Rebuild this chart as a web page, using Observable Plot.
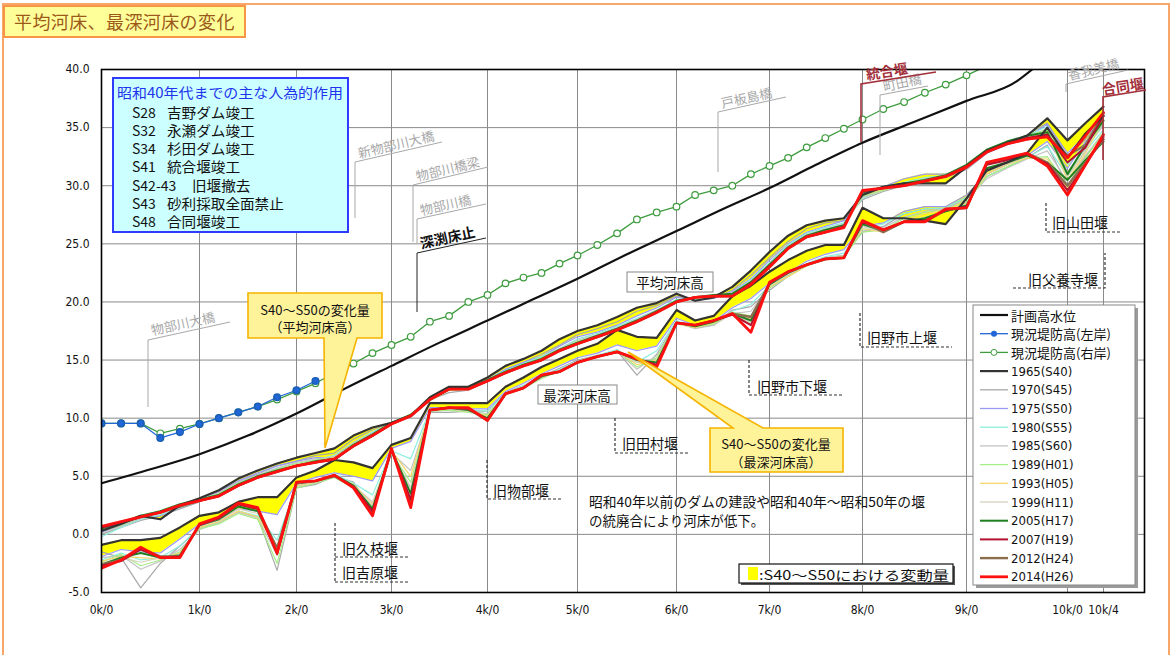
<!DOCTYPE html>
<html><head><meta charset="utf-8">
<script src="https://cdn.jsdelivr.net/npm/d3@7"></script>
<script src="https://cdn.jsdelivr.net/npm/@observablehq/plot@0.6"></script>
<style>
body{margin:0;background:#fff;}
#wrap{position:relative;width:1176px;height:655px;overflow:hidden;font-family:"Noto Sans CJK JP",sans-serif;}
#border{position:absolute;left:2px;top:3px;width:1168px;height:720px;border:2px solid #F9A66B;box-sizing:border-box;}
#chart{position:absolute;left:0;top:0;}
#title{position:absolute;left:3px;top:5px;width:243px;height:33px;background:#FFFF99;border:2px solid #F79646;box-sizing:border-box;color:#9C5A1A;font-size:18px;line-height:29px;padding-left:9px;letter-spacing:0.4px;}
</style></head>
<body><div id="wrap"><div id="border"></div><div id="chart"></div><div id="title">平均河床、最深河床の変化</div></div>
<script>
// ---- data ----
const stations = [0,0.2,0.4,0.6,0.8,1.0,1.2,1.4,1.6,1.8,
  2.0,2.2,2.4,2.6,2.8,3.0,3.2,3.4,3.6,3.8,
  4.0,4.2,4.4,4.6,4.8,5.0,5.2,5.4,5.6,5.8,
  6.0,6.2,6.4,6.6,6.8,7.0,7.2,7.4,7.6,7.8,
  8.0,8.2,8.4,8.6,8.8,9.0,9.2,9.4,9.6,9.8,
  10.0,10.2,10.4];

// 平均河床高 (mean bed)
const mean1965 = [0.3,0.9,1.6,1.3,2.5,3.1,3.8,4.8,5.5,6.1, 6.6,7.0,7.4,8.5,9.2,9.6,10.2,11.8,12.7,12.7, 13.5,14.5,15.1,15.8,16.8,17.5,18.0,18.7,19.5,19.9, 20.7,20.1,20.4,21.3,22.7,24.3,25.7,26.6,27.0,27.2, 29.2,29.9,30.2,30.2,30.2,31.6,33.0,33.7,34.3,35.8, 33.9,35.4,36.8];
const mean1970 = [0.0,0.6,1.2,1.6,2.2,2.8,3.6,4.5,5.2,5.9, 6.3,6.8,7.0,8.2,9.0,9.6,10.1,11.6,12.2,12.4, 13.2,14.2,14.8,15.5,16.3,17.2,17.7,18.3,19.2,19.7, 20.5,20.2,20.3,21.0,22.3,23.8,25.2,26.3,26.8,27.0, 28.8,29.5,30.0,30.6,30.7,31.4,32.8,33.6,34.4,35.4, 32.5,34.0,35.8];
const mean1975 = [0.2,0.8,1.4,1.6,2.3,3.0,3.7,4.6,5.3,5.9, 6.3,6.6,6.6,7.8,8.8,9.5,10.1,11.6,12.5,12.6, 13.3,14.2,14.8,15.3,16.2,17.0,17.4,18.0,18.8,19.5, 20.4,20.2,20.3,20.9,22.0,23.6,25.0,26.0,26.5,27.0, 29.0,29.9,30.6,31.0,31.0,31.5,32.8,33.5,34.2,35.3, 32.8,34.3,35.6];
const mean1980 = [-0.2,0.6,1.3,1.7,2.3,2.9,3.5,4.4,5.1,5.7, 6.1,6.4,6.8,7.9,8.8,9.5,10.2,11.6,12.5,12.5, 13.3,14.1,14.7,15.3,16.0,16.8,17.3,17.9,18.6,19.3, 20.2,20.2,20.4,20.8,21.9,23.4,24.9,25.9,26.4,26.8, 28.9,29.7,30.3,30.7,30.9,31.6,33.0,33.7,34.3,35.1, 31.8,33.6,35.4];
const mean1985 = [0.1,0.7,1.4,1.8,2.4,3.0,3.6,4.5,5.1,5.7, 6.2,6.5,6.7,7.9,8.7,9.5,10.1,11.5,12.4,12.4, 13.2,14.0,14.6,15.2,16.0,16.7,17.2,17.8,18.5,19.3, 20.1,20.3,20.4,20.8,21.8,23.3,24.8,25.8,26.3,26.7, 29.0,29.6,30.1,30.6,30.9,31.7,33.1,33.8,34.2,34.9, 31.2,33.2,35.2];
const mean1989 = [0.3,0.8,1.5,1.9,2.5,3.0,3.5,4.4,5.0,5.6, 6.1,6.4,6.6,7.8,8.6,9.6,10.2,11.5,12.4,12.5, 13.2,13.9,14.6,15.2,15.9,16.6,17.1,17.7,18.4,19.2, 20.1,20.3,20.5,20.7,21.7,23.2,24.7,25.7,26.2,26.6, 29.1,29.6,30.2,30.5,30.8,31.8,33.1,33.8,34.3,34.8, 30.8,33.0,35.5];
const mean1993 = [0.4,0.9,1.5,1.9,2.5,3.0,3.4,4.3,5.0,5.5, 6.0,6.3,6.6,7.7,8.6,9.5,10.2,11.6,12.4,12.5, 13.2,13.9,14.5,15.1,15.8,16.5,17.1,17.6,18.3,19.1, 20.0,20.3,20.5,20.6,21.6,23.1,24.6,25.6,26.1,26.5, 29.2,29.7,30.1,30.5,30.8,31.7,33.0,33.7,34.2,34.6, 30.5,32.8,35.8];
const mean1999 = [0.5,1.0,1.5,2.0,2.5,2.9,3.4,4.3,4.9,5.5, 5.9,6.3,6.5,7.7,8.5,9.5,10.2,11.6,12.5,12.5, 13.2,13.9,14.5,15.1,15.8,16.5,17.0,17.6,18.3,19.1, 20.0,20.4,20.5,20.6,21.6,23.1,24.6,25.6,26.1,26.5, 29.3,29.8,30.1,30.4,30.8,31.7,33.0,33.7,34.2,34.5, 30.8,33.0,36.0];
const mean2005 = [0.5,1.0,1.6,2.0,2.6,3.0,3.4,4.3,5.0,5.5, 5.9,6.3,6.5,7.7,8.6,9.6,10.3,11.6,12.5,12.6, 13.3,14.0,14.6,15.1,15.9,16.5,17.1,17.7,18.4,19.2, 20.1,20.4,20.6,20.7,21.7,23.2,24.7,25.7,26.2,26.6, 29.4,29.9,30.2,30.5,30.9,31.8,33.1,33.8,34.3,34.6, 31.0,33.5,35.6];
const mean2007 = [0.6,1.0,1.5,1.9,2.5,2.9,3.3,4.2,4.9,5.4, 5.9,6.2,6.4,7.6,8.5,9.5,10.2,11.6,12.5,12.5, 13.2,13.9,14.5,15.0,15.8,16.4,17.0,17.6,18.3,19.1, 20.0,20.4,20.5,20.5,21.6,23.1,24.6,25.6,26.0,26.5, 29.5,29.8,30.1,30.4,30.8,31.7,33.0,33.6,34.1,34.4, 32.0,33.3,36.0];
const mean2012 = [0.6,1.0,1.5,1.9,2.4,2.9,3.3,4.2,4.9,5.4, 5.9,6.2,6.5,7.6,8.5,9.5,10.2,11.6,12.5,12.5, 13.2,13.9,14.5,15.0,15.8,16.4,17.0,17.6,18.3,19.1, 20.0,20.4,20.5,20.5,21.5,23.0,24.6,25.6,26.0,26.5, 29.5,29.8,30.0,30.4,30.8,31.6,32.9,33.6,34.0,34.3, 32.6,33.5,36.2];
const mean2014 = [0.7,1.1,1.5,1.9,2.5,2.9,3.3,4.2,4.9,5.4, 5.9,6.2,6.5,7.6,8.5,9.5,10.2,11.6,12.5,12.5, 13.2,13.9,14.5,15.0,15.8,16.4,17.0,17.6,18.3,19.1, 20.0,20.4,20.5,20.5,21.5,23.0,24.6,25.6,26.0,26.4, 29.6,29.8,30.0,30.4,30.8,31.6,32.9,33.6,34.0,34.2, 32.4,34.3,36.3];

// 最深河床高 (deepest bed)
const deep1965 = [-0.9,-0.5,-0.5,-0.3,0.6,1.6,1.9,2.8,3.2,3.2, 4.9,5.5,6.4,6.2,5.7,7.7,8.3,11.3,11.3,11.3, 11.3,12.7,13.5,14.4,15.1,15.8,16.4,17.6,17.0,16.9, 19.3,18.4,18.8,20.5,21.4,22.6,23.6,24.4,24.9,24.9, 28.1,27.2,27.2,27.0,26.7,28.9,31.3,32.0,32.8,35.0, 32.4,34.5,36.0];
const deep1970 = [-1.5,-2.0,-4.6,-2.5,-1.0,0.5,1.0,2.0,1.5,-3.1, 4.0,4.3,5.0,4.5,2.0,7.0,4.0,10.5,10.5,10.6, 10.6,12.2,12.8,13.6,14.3,15.0,15.4,15.8,13.7,15.5, 18.3,17.8,18.0,19.3,19.6,21.0,22.2,23.2,23.8,24.0, 26.0,26.5,27.6,28.0,28.0,29.0,30.8,31.6,32.4,33.5, 30.0,32.5,34.5];
const deep1975 = [-1.9,-1.3,-1.5,-1.6,-0.4,0.9,1.2,2.2,2.0,1.7, 4.4,4.9,5.3,5.0,4.6,7.4,8.0,10.9,10.9,10.8, 10.8,12.3,13.0,13.8,14.5,15.2,15.6,16.3,15.8,16.2, 18.6,18.0,18.3,19.5,20.3,21.6,22.5,23.5,24.1,24.5, 26.5,26.8,27.8,28.2,28.2,29.2,31.0,31.8,32.6,33.8, 31.5,33.8,35.2];
const deep1980 = [-2.2,-1.6,-2.2,-2.0,-1.0,0.6,1.0,2.0,1.6,-0.5, 4.2,4.6,5.2,4.4,3.4,7.2,6.5,10.7,10.8,10.7, 10.6,12.1,12.8,13.6,14.2,14.9,15.4,15.9,14.8,15.8, 18.4,17.8,18.1,19.2,19.8,21.4,22.4,23.3,23.9,24.2, 26.3,26.7,27.6,28.0,28.1,29.0,30.8,31.6,32.4,33.4, 30.8,33.0,34.8];
const deep1985 = [-2.0,-1.8,-3.0,-2.3,-1.3,0.4,1.0,1.9,1.4,-1.8, 4.1,4.5,5.0,4.2,2.8,7.0,5.5,10.6,10.7,10.6, 10.4,12.0,12.7,13.5,14.1,14.8,15.3,15.8,14.2,15.4, 18.2,17.7,18.0,19.0,19.2,21.3,22.3,23.2,23.8,24.0, 26.1,26.4,27.3,27.8,28.0,28.8,30.6,31.5,32.3,33.0, 30.4,32.6,34.6];
const deep1989 = [-2.4,-1.7,-2.7,-2.2,-1.5,0.5,0.9,1.8,1.3,-2.5, 4.0,4.4,4.9,4.0,2.4,7.0,4.5,10.6,10.7,10.5, 10.3,12.0,12.6,13.4,14.1,14.8,15.3,15.8,14.4,15.2, 18.2,17.8,18.1,19.1,18.8,21.2,22.2,23.1,23.7,23.9, 26.0,26.2,27.2,27.7,27.9,28.6,30.8,31.6,32.4,32.5, 30.0,32.4,34.6];
const deep1993 = [-2.3,-1.9,-2.0,-2.1,-1.6,0.6,1.1,2.0,1.5,-1.2, 4.2,4.5,5.0,4.3,2.6,7.2,5.0,10.7,10.8,10.6, 10.2,12.0,12.6,13.5,14.0,14.8,15.3,15.8,14.6,15.0, 18.1,17.8,18.2,19.0,18.5,21.3,22.2,23.1,23.7,23.9, 26.3,26.0,27.0,27.6,27.9,28.5,31.0,31.8,32.4,32.3, 29.8,32.2,34.2];
const deep1999 = [-2.5,-2.0,-2.4,-2.0,-1.8,0.7,1.2,2.2,1.8,-1.0, 4.3,4.5,5.0,4.2,2.5,7.2,4.0,10.7,10.8,10.6, 10.0,12.0,12.5,13.5,14.0,14.7,15.2,15.7,14.8,14.8, 18.1,17.9,18.3,18.9,18.2,21.4,22.4,23.1,23.6,23.8, 26.5,26.0,26.9,27.3,27.8,28.4,31.2,31.9,32.5,32.0, 29.6,32.0,34.0];
const deep2005 = [-2.6,-2.0,-1.6,-2.0,-1.8,0.8,1.3,2.4,2.0,-1.4, 4.4,4.6,5.1,4.2,2.2,7.3,3.5,10.7,10.9,10.7, 10.0,12.1,12.6,13.6,14.0,14.8,15.3,15.7,15.0,14.8, 18.2,17.9,18.3,19.0,18.4,21.5,22.5,23.2,23.7,23.8, 26.7,26.1,26.9,27.2,27.8,28.3,31.5,32.0,32.6,32.0, 30.5,32.2,33.8];
const deep2007 = [-2.7,-2.3,-1.3,-2.0,-1.9,0.8,1.4,2.6,2.2,-1.7, 4.5,4.6,5.1,4.1,2.0,7.3,3.0,10.7,10.9,10.8, 9.9,12.1,12.6,13.7,14.0,14.8,15.3,15.7,15.1,14.6, 18.2,18.0,18.4,18.9,18.0,21.6,22.6,23.2,23.7,23.8, 26.9,26.2,26.9,27.0,27.9,28.2,31.8,32.2,32.7,31.9, 29.6,31.8,34.2];
const deep2012 = [-2.6,-2.2,-1.2,-1.9,-1.9,0.8,1.4,2.6,2.2,-1.2, 4.4,4.6,5.0,4.1,1.8,7.3,2.8,10.7,10.9,10.8, 9.8,12.1,12.6,13.7,14.0,14.8,15.3,15.7,15.1,14.5, 18.2,18.0,18.4,19.0,18.7,21.6,22.6,23.2,23.7,23.8, 26.9,26.0,26.9,26.9,27.9,28.1,31.9,32.3,32.8,32.0, 30.0,32.0,34.0];
const deep2014 = [-2.9,-2.2,-1.1,-2.0,-2.0,0.9,1.5,2.7,2.3,-1.6, 4.5,4.6,5.1,4.0,1.6,7.4,2.3,10.7,10.9,10.9, 9.8,12.1,12.6,13.7,14.0,14.8,15.3,15.7,15.1,14.4, 18.2,18.0,18.4,19.0,17.4,21.7,22.6,23.2,23.7,23.8, 27.0,26.2,26.9,26.9,28.0,28.1,32.0,32.4,32.8,31.7, 29.2,31.8,34.4];

// 計画高水位
const hwlKm = [0,0.5,1,1.5,2,2.5,3,3.5,4,4.5,5,5.5,6,6.5,7,7.5,8,8.5,9,9.5,9.65];
const hwlLevel = [4.4,5.6,6.9,8.5,10.4,12.5,14.5,16.5,18.4,20.2,22.0,24.1,26.1,28.0,29.8,31.8,33.7,35.5,37.3,39.0,40.0];
// 現況堤防高
const rightBankKm = [0,0.2,0.4,0.6,0.8,1.0,1.2,1.4,1.6,1.8,2.0,2.2,2.4,2.6,2.8,3.0,3.2,3.4,3.6,3.8,4.0,4.2,4.4,4.6,4.8,5.0,5.2,5.4,5.6,5.8,6.0,6.2,6.4,6.6,6.8,7.0,7.2,7.4,7.6,7.8,8.0,8.2,8.4,8.6,8.8,9.0,9.2];
const rightBank = [9.55,9.55,9.55,8.7,9.1,9.5,10.0,10.5,11.0,11.6, 12.3,13.0,13.9,14.7,15.6,16.3,17.0,18.3,18.8,20.0, 20.6,21.6,22.1,22.5,23.3,24.0,24.9,25.9,27.1,27.7, 28.2,29.2,29.6,30.0,31.0,31.7,32.4,33.3,34.1,34.9, 35.7,36.6,37.2,38.0,38.7,39.5,40.3];
const leftBankKm = [0,0.2,0.4,0.6,0.8,1.0,1.2,1.4,1.6,1.8,2.0,2.2];
const leftBank = [9.55,9.55,9.55,8.3,8.8,9.5,10.0,10.5,11.0,11.8,12.4,13.2];

// axes
const xTicks = [0,1,2,3,4,5,6,7,8,9,10,10.4];
const xTickLabels = ["0k/0","1k/0","2k/0","3k/0","4k/0","5k/0","6k/0","7k/0","8k/0","9k/0","10k/0","10k/4"];
const yTicks = [-5,0,5,10,15,20,25,30,35,40];

// legend
const legendLabels = ["計画高水位","現況堤防高(左岸)","現況堤防高(右岸)","1965(S40)","1970(S45)","1975(S50)","1980(S55)","1985(S60)","1989(H01)","1993(H05)","1999(H11)","2005(H17)","2007(H19)","2012(H24)","2014(H26)"];
const legendColors = ["#111111","#2066D8","#3E9B3E","#333333","#A8A8A8","#9A9AF5","#8CF0DC","#C4C4C4","#A6EE86","#F5D76E","#D6D2BE","#1E7F1E","#B3122E","#8A6E4E","#FF1010"];
const legendWidths = [2.2,1,1,2.2,1.2,1.2,1.2,1.2,1.2,1.2,1.2,2,2,2.4,2.8];

const infoTitle = "昭和40年代までの主な人為的作用";
const infoYears = ["S28","S32","S34","S41","S42-43","S43","S48"];
const infoEvents = ["吉野ダム竣工","永瀬ダム竣工","杉田ダム竣工","統合堰竣工","旧堰撤去","砂利採取全面禁止","合同堰竣工"];

// ---- chart ----
const JP = '"Noto Sans CJK JP", sans-serif';
const NARROW = '"Liberation Sans Narrow","DejaVu Sans Condensed","Noto Sans CJK JP",sans-serif';
const meanSeries = [mean1970,mean1975,mean1980,mean1985,mean1989,mean1993,mean1999];
const deepSeries = [deep1970,deep1975,deep1980,deep1985,deep1989,deep1993,deep1999];
const thinIdx = [4,5,6,7,8,9,10];
const ln = (vals, i) => Plot.lineY(vals, {x: stations, stroke: legendColors[i], strokeWidth: legendWidths[i], clip: true});

const marks = [
  Plot.gridX(xTicks, {stroke: "#8a8a8a", strokeOpacity: 1, strokeWidth: 1}),
  Plot.gridY(yTicks, {stroke: "#8a8a8a", strokeOpacity: 1, strokeWidth: 1}),
  Plot.areaY(stations, {x: stations, y1: mean1965, y2: mean1975, fill: "#FFFF00", clip: true}),
  Plot.areaY(stations, {x: stations, y1: deep1965, y2: deep1975, fill: "#FFFF00", clip: true})
];
thinIdx.forEach((li, j) => { marks.push(ln(meanSeries[j], li)); marks.push(ln(deepSeries[j], li)); });
marks.push(ln(mean2005, 11), ln(deep2005, 11), ln(mean2012, 13), ln(deep2012, 13), ln(mean2007, 12), ln(deep2007, 12),
  ln(mean1965, 3), ln(deep1965, 3), ln(mean2014, 14), ln(deep2014, 14));
marks.push(
  Plot.line(hwlKm, {x: hwlKm, y: hwlLevel, stroke: legendColors[0], strokeWidth: 2.2, curve: "monotone-x", clip: true}),
  Plot.lineY(rightBank, {x: rightBankKm, stroke: legendColors[2], strokeWidth: 1.3, clip: true}),
  Plot.dot(rightBank, {x: rightBankKm, y: d => d, r: 3.3, stroke: legendColors[2], fill: "#ffffff", strokeWidth: 1.2, clip: true}),
  Plot.lineY(leftBank, {x: leftBankKm, stroke: legendColors[1], strokeWidth: 1.2, clip: true}),
  Plot.dot(leftBank, {x: leftBankKm, y: d => d, r: 3.3, fill: legendColors[1], stroke: "#1a5fb4", clip: true}),
  Plot.axisX({ticks: xTicks, tickSize: 0, tickPadding: 13, tickFormat: (d, i) => xTickLabels[xTicks.indexOf(d)], fontSize: 12, label: null}),
  Plot.axisY({ticks: yTicks, tickSize: 0, tickPadding: 12, tickFormat: d => d.toFixed(1), fontSize: 12, label: null}),
  Plot.frame({stroke: "#000", strokeWidth: 1.6})
);

const chart = Plot.plot({
  width: 1176, height: 655,
  marginLeft: 101, marginRight: 32, marginTop: 69, marginBottom: 63,
  style: {background: "transparent", fontFamily: NARROW, color: "#111", overflow: "visible"},
  x: {type: "linear", domain: [0,1,2,3,4,5,6,7,8,9,10,10.4,10.86], range: [101,199,296,391,487,577,676,769,862,966,1067,1103,1144]},
  y: {type: "linear", domain: [-5, 40], range: [592, 69]},
  marks
});
document.getElementById("chart").appendChild(chart);

// ---- overlay annotations ----
const svg = d3.select(chart);
const ov = svg.append("g").attr("font-family", JP);
function T(x, y, s, o = {}) {
  const t = ov.append("text").attr("x", x).attr("y", y).text(s)
    .attr("font-size", o.size || 14).attr("fill", o.fill || "#111")
    .attr("text-anchor", o.anchor || "start").attr("dominant-baseline", "central");
  if (o.family) t.attr("font-family", o.family);
  if (o.rot) t.attr("transform", `rotate(${o.rot},${x},${y})`);
  if (o.len) t.attr("textLength", o.len).attr("lengthAdjust", "spacingAndGlyphs");
  if (o.weight) t.attr("font-weight", o.weight);
  return t;
}
function L(pts, o = {}) {
  ov.append("path").attr("d", "M" + pts.map(p => p.join(",")).join("L"))
    .attr("fill", "none").attr("stroke", o.stroke || "#000").attr("stroke-width", o.w || 1)
    .attr("stroke-dasharray", o.dash || null);
}
const GR = "#A8A8A8", DR = "#A3303A";
// bridges
L([[148,407],[148,340],[230,322]], {stroke: GR});
T(151,330,"物部川大橋",{rot:-12.4, fill:GR, size:13});
L([[355,218],[355,162],[442,142]], {stroke: GR});
T(358,153,"新物部川大橋",{rot:-13.5, fill:GR, size:13});
L([[413,242],[413,185],[488,167]], {stroke: GR});
T(416,176,"物部川橋梁",{rot:-13.5, fill:GR, size:13});
L([[417,243],[417,219],[486,204]], {stroke: GR});
T(420,210,"物部川橋",{rot:-12.4, fill:GR, size:13});
L([[417,312],[417,253],[486,238]], {stroke: "#222"});
T(420,243,"深渕床止",{rot:-12.4, fill:"#111", size:14, weight:"bold"});
L([[718,172],[718,112],[786,97]], {stroke: GR});
T(721,103,"戸板島橋",{rot:-12.4, fill:GR, size:13});
L([[880,155],[880,95],[928,86]], {stroke: GR});
T(883,86,"町田橋",{rot:-12, fill:GR, size:13});
L([[1066,92],[1066,84],[1128,70]], {stroke: GR});
T(1068,75,"香我美橋",{rot:-14, fill:GR, size:13});
// weirs (dark red)
L([[861,142],[861,84],[936,72]], {stroke: DR, w: 1.6});
T(866,74,"統合堰",{rot:-9, fill:DR, size:14, weight:"bold"});
L([[1103,160],[1103,97],[1146,90]], {stroke: DR, w: 1.6});
T(1102,89,"合同堰",{rot:-9, fill:DR, size:14, weight:"bold"});
// old weirs (dashed)
const DS = {dash: "3,2", w: 1.2, stroke: "#333"};
L([[335,523],[335,582]], DS); L([[335,557],[410,557]], DS); L([[335,582],[410,582]], DS);
T(342,548,"旧久枝堰"); T(342,572,"旧吉原堰");
L([[487,460],[487,499],[562,499]], DS); T(493,490,"旧物部堰");
L([[615,418],[615,453],[690,453]], DS); T(622,443,"旧田村堰");
L([[749,360],[749,395],[842,395]], DS); T(757,386,"旧野市下堰");
L([[860,313],[860,347],[952,347]], DS); T(867,337,"旧野市上堰");
L([[1013,288],[1105,288],[1105,253]], DS); T(1028,279,"旧父養寺堰");
L([[1046,203],[1046,232],[1122,232]], DS); T(1052,222,"旧山田堰");

// label boxes
ov.append("rect").attr("x",627).attr("y",272).attr("width",86).attr("height",20).attr("fill","#fff").attr("stroke","#888");
T(670,282,"平均河床高",{anchor:"middle", size:13.5});
ov.append("rect").attr("x",538).attr("y",385).attr("width",79).attr("height",19).attr("fill","#fff").attr("stroke","#888");
T(577,395,"最深河床高",{anchor:"middle", size:13.5});

// callouts
const CF = "#FFF39A", CS = "#F5B400";
ov.append("path").attr("d","M248,293H382V338H357L325,448L324,338H248Z").attr("fill",CF).attr("stroke",CS).attr("stroke-width",1.6);
T(315,309,"S40～S50の変化量",{anchor:"middle", size:13});
T(315,326,"（平均河床高）",{anchor:"middle", size:13});
ov.append("path").attr("d","M710,428H733L628,352L763,428H843V472H710Z").attr("fill",CF).attr("stroke",CS).attr("stroke-width",1.6);
T(776,443,"S40～S50の変化量",{anchor:"middle", size:13});
T(776,461,"（最深河床高）",{anchor:"middle", size:13});

// note text
T(589,501,"昭和40年以前のダムの建設や昭和40年～昭和50年の堰",{size:13.5, len:336});
T(589,520,"の統廃合により河床が低下。",{size:13.5});

// info box
ov.append("rect").attr("x",113).attr("y",78).attr("width",235).attr("height",154).attr("fill","#CCFFFF").attr("stroke","#2E3BFF").attr("stroke-width",2);
T(117,92,infoTitle,{fill:"#2233EE", size:14, len:226});
infoYears.forEach((yr, i) => {
  const yy = 111.7 + i * 18.2;
  T(132, yy, yr, {size:14});
  T(yr === "S42-43" ? 192 : 167, yy, infoEvents[i], {size:14, len: infoEvents[i].length * 14.6});
});

// yellow legend box
ov.append("rect").attr("x",741).attr("y",566).attr("width",214).attr("height",19).attr("fill","#555");
ov.append("rect").attr("x",739).attr("y",564).attr("width",214).attr("height",19).attr("fill","#fff").attr("stroke","#111").attr("stroke-width",1.2);
ov.append("rect").attr("x",748).attr("y",567).attr("width",10).attr("height",13).attr("fill","#FFFF00");
T(759,574,":S40～S50における変動量",{size:13, len:190});

// series legend
ov.append("rect").attr("x",976).attr("y",308).attr("width",162).attr("height",280).attr("fill","#9a9a9a");
ov.append("rect").attr("x",973).attr("y",305).attr("width",162).attr("height",280).attr("fill","#fff").attr("stroke","#888");
legendLabels.forEach((lab, i) => {
  const yy = 315 + i * 18.7;
  L([[980,yy],[1008,yy]], {stroke: legendColors[i], w: Math.max(legendWidths[i], 1.3)});
  if (i === 1) ov.append("circle").attr("cx",994).attr("cy",yy).attr("r",3).attr("fill",legendColors[1]);
  if (i === 2) ov.append("circle").attr("cx",994).attr("cy",yy).attr("r",3).attr("fill","#fff").attr("stroke",legendColors[2]);
  T(1011, yy, lab, {size:13, family: i < 3 ? JP : NARROW});
});
</script>
</body></html>
